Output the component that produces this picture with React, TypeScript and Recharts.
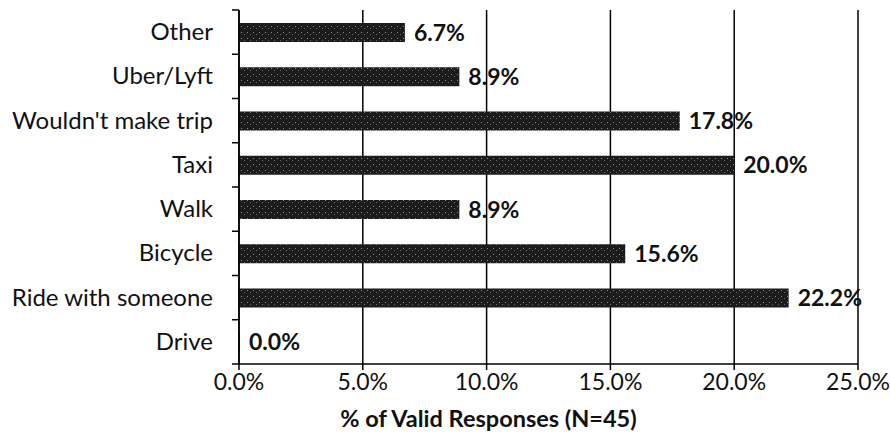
import React from 'react';
import { BarChart, Bar, XAxis, YAxis, CartesianGrid, LabelList, Label } from 'recharts';

const categories = ['Other', 'Uber/Lyft', "Wouldn't make trip", 'Taxi', 'Walk', 'Bicycle', 'Ride with someone', 'Drive'];
const shares = [6.7, 8.9, 17.8, 20.0, 8.9, 15.6, 22.2, 0.0];
const xTicks = [0, 5, 10, 15, 20, 25];

const data = categories.map((name, i) => ({ name, value: shares[i] }));

const FONT = 'Lato, "Open Sans", sans-serif';
const BAND = 354 / categories.length;

const CategoryTick = (props: any) => {
  const { x, y, payload, index } = props;
  return (
    <g>
      <line x1={x + 1} x2={x + 8} y1={y - BAND / 2} y2={y - BAND / 2} stroke="#000" strokeWidth={1.5} />
      {index === categories.length - 1 && (
        <line x1={x + 1} x2={x + 8} y1={y + BAND / 2} y2={y + BAND / 2} stroke="#000" strokeWidth={1.5} />
      )}
      <text x={x - 18} y={y} dy={8} textAnchor="end" fill="#111" fontSize={24} fontFamily={FONT}>
        {payload.value}
      </text>
    </g>
  );
};

const App: React.FC = () => {
  return (
    <div style={{ position: 'absolute', left: 0, top: 0, width: 890, height: 444, background: '#fff' }}>
      <BarChart
        width={890}
        height={444}
        data={data}
        layout="vertical"
        margin={{ top: 10, right: 32, left: 0, bottom: 0 }}
        barCategoryGap={0}
      >
        <defs>
          <pattern id="grain" width="6" height="6" patternUnits="userSpaceOnUse">
            <rect width="6" height="6" fill="#1c1c1c" />
            <rect x="1" y="2" width="1" height="1" fill="#8a8a8a" />
            <rect x="4" y="4" width="1" height="1" fill="#6a6a6a" />
          </pattern>
        </defs>
        <CartesianGrid horizontal={false} stroke="#000" strokeWidth={1.5} />
        <XAxis
          type="number"
          domain={[0, 25]}
          ticks={xTicks}
          tickFormatter={(v: number) => `${v.toFixed(1)}%`}
          tick={{ fill: '#111', fontSize: 23, fontFamily: FONT }}
          tickLine={{ stroke: '#000', strokeWidth: 1.5 }}
          axisLine={{ stroke: '#000', strokeWidth: 1.5 }}
          tickSize={6}
          tickMargin={4}
          height={80}
          interval={0}
        >
          <Label
            value="% of Valid Responses (N=45)"
            position="insideBottom"
            offset={17}
            dx={-60}
            fill="#111"
            fontSize={23.5}
            fontWeight="bold"
            fontFamily={FONT}
          />
        </XAxis>
        <YAxis
          type="category"
          dataKey="name"
          width={239}
          tick={<CategoryTick />}
          tickLine={false}
          axisLine={{ stroke: '#000', strokeWidth: 1.5 }}
          interval={0}
        />
        <Bar dataKey="value" fill="url(#grain)" barSize={19} minPointSize={1} isAnimationActive={false}>
          <LabelList
            dataKey="value"
            position="right"
            offset={9}
            formatter={(v: any) => `${Number(v).toFixed(1)}%`}
            fill="#111"
            fontSize={23}
            fontWeight="bold"
            fontFamily={FONT}
          />
        </Bar>
      </BarChart>
    </div>
  );
};

export default App;
